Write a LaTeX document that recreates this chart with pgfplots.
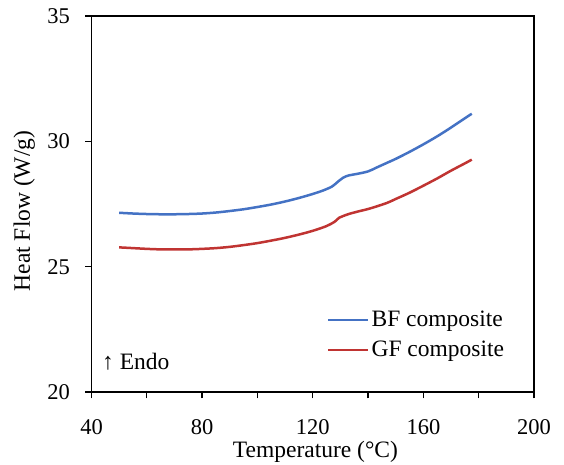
\documentclass[border=0pt]{standalone}
\usepackage{pgfplots}
\pgfplotsset{compat=1.18}
\usepackage{fontspec}
\setmainfont{Liberation Serif}
\definecolor{bfblue}{RGB}{68,114,196}
\definecolor{gfred}{RGB}{192,52,50}
\begin{document}
\fontsize{22}{26}\selectfont
\begin{tikzpicture}
\useasboundingbox (0,0) rectangle (564pt,465pt);
\begin{axis}[
  at={(91.5pt,73pt)}, anchor=south west,
  scale only axis,
  width=442.5pt, height=376pt,
  xmin=40, xmax=200, ymin=20, ymax=35,
  xtick={40,80,...,200},
  minor xtick={60,100,140,180},
  ytick={20,25,30,35},
  tick align=outside,
  major tick length=6.5pt, minor tick length=6.5pt,
  xtick pos=bottom, ytick pos=left,
  axis line style={line width=1.3pt},
  every tick/.style={black, line width=1.3pt},
  /pgf/number format/assume math mode=true,
  tick label style={font=\fontsize{22.5}{26}\selectfont, inner sep=0pt},
  xticklabel style={anchor=base, yshift=-36pt},
  yticklabel style={anchor=east, xshift=-15pt},
  xlabel={Temperature (°C)},
  ylabel={Heat Flow (W/g)},
  xlabel style={font=\fontsize{23.5}{26}\selectfont, inner sep=0pt,
    at={(axis description cs:0.506,0)}, anchor=base, yshift=-66pt},
  ylabel style={font=\fontsize{23.5}{26}\selectfont, inner sep=0pt,
    at={(axis description cs:-0.139,0.4814)}, anchor=base, rotate=0},
  legend style={draw=none, fill=none, font=\fontsize{23.5}{26}\selectfont,
    at={(axis description cs:0.532,0.222)}, anchor=north west, inner sep=0pt, row sep=7pt,
    cells={anchor=west}, column sep=0pt},
  legend cell align=left,
  legend image code/.code={\draw[#1] (0pt,0pt) -- (40pt,0pt);},
]
\addplot[bfblue, line width=2.5pt, smooth] coordinates {
(50,27.15) (55,27.12) (60,27.10) (65,27.09) (70,27.09) (75,27.10) (80,27.12)
(85,27.16) (90,27.22) (95,27.29) (100,27.38) (105,27.48) (110,27.60) (115,27.74)
(120,27.90) (124,28.05) (127,28.20) (129,28.38) (131,28.55) (133,28.64) (136,28.70)
(140,28.80) (143,28.95) (147,29.15) (150,29.30) (155,29.58) (160,29.88) (165,30.20)
(170,30.55) (175,30.92) (177.5,31.10)
};
\addlegendentry{BF composite}
\addplot[gfred, line width=2.5pt, smooth] coordinates {
(50,25.77) (55,25.74) (60,25.71) (65,25.69) (70,25.69) (75,25.69) (80,25.71)
(85,25.74) (90,25.79) (95,25.86) (100,25.94) (105,26.04) (110,26.15) (115,26.28)
(120,26.43) (125,26.62) (128,26.80) (129.5,26.95) (131,27.02) (133,27.10) (136,27.19)
(140,27.30) (143,27.40) (147,27.55) (150,27.70) (155,27.95) (160,28.23) (165,28.52)
(170,28.83) (175,29.12) (177.5,29.27)
};
\addlegendentry{GF composite}
\node[anchor=base west, font=\fontsize{23.5}{26}\selectfont, inner sep=0pt] at (axis cs:43.8,20.88) {↑ Endo};
\end{axis}
\end{tikzpicture}
\end{document}
